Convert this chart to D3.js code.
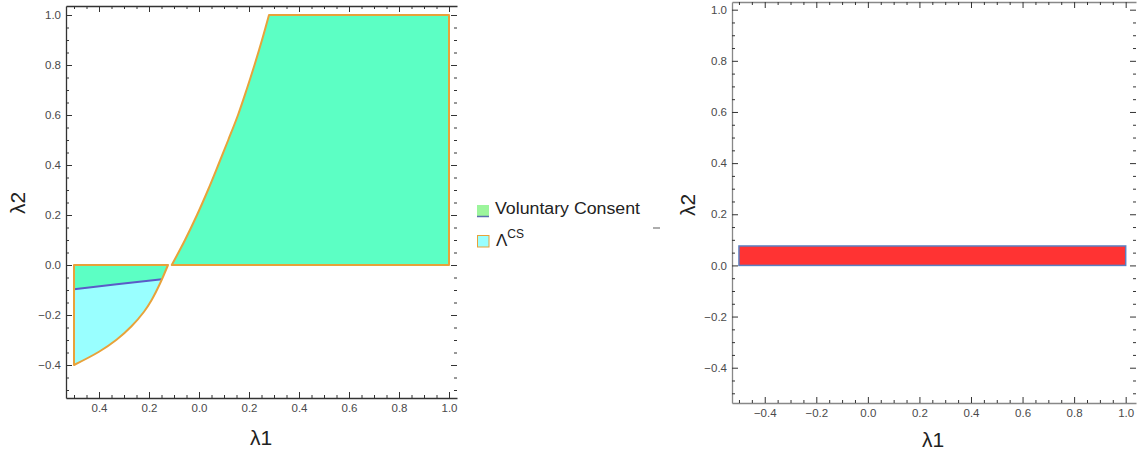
<!DOCTYPE html>
<html>
<head>
<meta charset="utf-8">
<script src="https://cdn.jsdelivr.net/npm/d3@7"></script>
<style>
  body { margin: 0; background: #fff; }
  svg { display: block; font-family: "Liberation Sans", Arial, sans-serif; }
  .tick text { fill: #4a4a4a; font-size: 11.5px; }
</style>
</head>
<body>
<div id="chart"></div>
<script>

// ticks
const majorTicks = [-0.4, -0.2, 0.0, 0.2, 0.4, 0.6, 0.8, 1.0];
const xTickLabelsLeft = ["0.4", "0.2", "0.0", "0.2", "0.4", "0.6", "0.8", "1.0"];
const xTickLabelsRight = ["\u22120.4", "\u22120.2", "0.0", "0.2", "0.4", "0.6", "0.8", "1.0"];
const yTickLabels = ["\u22120.4", "\u22120.2", "0.0", "0.2", "0.4", "0.6", "0.8", "1.0"];

// left panel: boundary of the upper region (lambda1, lambda2)
const upperCurve = [[-0.109, 0], [-0.056, 0.1], [-0.008, 0.2], [0.036, 0.3], [0.077, 0.4], [0.117, 0.5],
                    [0.156, 0.6], [0.19, 0.7], [0.222, 0.8], [0.252, 0.9], [0.28, 1.0]];
const upperCorners = [[1.0, 1.0], [1.0, 0.0]];
// left panel: lower boundary of the small region
const lowerCurve = [[-0.5, -0.4], [-0.4, -0.347], [-0.33, -0.299], [-0.27, -0.245],
                    [-0.22, -0.187], [-0.19, -0.141], [-0.155, -0.072], [-0.124, 0]];
const lowerCorner = [-0.5, 0.0];
// voluntary consent boundary inside the small region
const consentLine = [[-0.5, -0.097], [-0.329, -0.077], [-0.148, -0.057]];

// right panel bar
const barX = [-0.5, 1.0];
const barY = [0.0, 0.076];

const W = 1138, H = 455;
const green = "#5cffc4", cyan = "#99ffff", orange = "#e8a23a", blue = "#5b5bc8";

const svg = d3.select("#chart").append("svg")
    .attr("width", W)
    .attr("height", H);

function minorTicks() {
    return d3.range(-10, 21).map(function (i) { return i * 0.05; })
        .filter(function (v) { return Math.abs(Math.round(v * 5) - v * 5) > 1e-6; });
}

function drawFrame(x, y, xLabels, axisColor) {
    const g = svg.append("g");
    const x0 = x.range()[0], x1 = x.range()[1];
    const y0 = y.range()[0], y1 = y.range()[1];
    const minor = minorTicks().filter(function (v) { return v >= x.domain()[0] && v <= x.domain()[1]; });
    const minorY = minorTicks().filter(function (v) { return v >= y.domain()[0] && v <= y.domain()[1]; });

    // bottom
    g.append("g").attr("transform", "translate(0," + y0 + ")")
        .call(d3.axisBottom(x).tickValues(majorTicks)
            .tickFormat(function (d, i) { return xLabels[i]; })
            .tickSize(-6).tickSizeOuter(0).tickPadding(6));
    g.append("g").attr("class", "minor").attr("transform", "translate(0," + y0 + ")")
        .call(d3.axisBottom(x).tickValues(minor).tickFormat("").tickSize(-3).tickSizeOuter(0));
    // top
    g.append("g").attr("transform", "translate(0," + y1 + ")")
        .call(d3.axisTop(x).tickValues(majorTicks).tickFormat("").tickSize(-6).tickSizeOuter(0));
    g.append("g").attr("class", "minor").attr("transform", "translate(0," + y1 + ")")
        .call(d3.axisTop(x).tickValues(minor).tickFormat("").tickSize(-3).tickSizeOuter(0));
    // left
    g.append("g").attr("transform", "translate(" + x0 + ",0)")
        .call(d3.axisLeft(y).tickValues(majorTicks)
            .tickFormat(function (d, i) { return yTickLabels[i]; })
            .tickSize(-6).tickSizeOuter(0).tickPadding(5));
    g.append("g").attr("class", "minor").attr("transform", "translate(" + x0 + ",0)")
        .call(d3.axisLeft(y).tickValues(minorY).tickFormat("").tickSize(-3).tickSizeOuter(0));
    // right (ticks only)
    g.append("g").attr("class", "minor").attr("transform", "translate(" + x1 + ",0)")
        .call(d3.axisRight(y).tickValues(majorTicks).tickFormat("").tickSize(-6).tickSizeOuter(0));
    g.append("g").attr("class", "minor").attr("transform", "translate(" + x1 + ",0)")
        .call(d3.axisRight(y).tickValues(minorY).tickFormat("").tickSize(-3).tickSizeOuter(0));

    g.selectAll(".minor .domain").remove();
    g.selectAll(".domain").attr("stroke", axisColor).attr("stroke-width", 1.3);
    g.selectAll(".tick line").attr("stroke", "#333").attr("stroke-width", 1);
    return g;
}

// ---------------- left panel ----------------
const xL = d3.scaleLinear().domain([-0.532, 1.032]).range([66, 457]);
const yL = d3.scaleLinear().domain([-0.532, 1.036]).range([398, 6]);

const curveL = d3.line()
    .x(function (d) { return xL(d[0]); })
    .y(function (d) { return yL(d[1]); })
    .curve(d3.curveCatmullRom.alpha(0.5));

// upper region
const upperPath = curveL(upperCurve) +
    upperCorners.map(function (d) { return "L" + xL(d[0]) + "," + yL(d[1]); }).join("") + "Z";
svg.append("path")
    .attr("d", upperPath)
    .attr("fill", green)
    .attr("stroke", orange)
    .attr("stroke-width", 2)
    .attr("stroke-linejoin", "round");

// lower-left region, split by consent line
const lowerPath = curveL(lowerCurve) + "L" + xL(lowerCorner[0]) + "," + yL(lowerCorner[1]) + "Z";
svg.append("clipPath").attr("id", "lowclip").append("path").attr("d", lowerPath);

const low = svg.append("g").attr("clip-path", "url(#lowclip)");
low.append("rect")
    .attr("x", xL(lowerCorner[0]))
    .attr("y", yL(0))
    .attr("width", xL(0) - xL(lowerCorner[0]))
    .attr("height", yL(-0.45) - yL(0))
    .attr("fill", green);
low.append("path")
    .datum(consentLine)
    .attr("d", d3.area()
        .x(function (d) { return xL(d[0]); })
        .y0(yL(-0.45))
        .y1(function (d) { return yL(d[1]); })
        .curve(d3.curveMonotoneX))
    .attr("fill", cyan);
low.append("path")
    .datum(consentLine)
    .attr("d", d3.line()
        .x(function (d) { return xL(d[0]); })
        .y(function (d) { return yL(d[1]); })
        .curve(d3.curveMonotoneX))
    .attr("fill", "none")
    .attr("stroke", blue)
    .attr("stroke-width", 2);

svg.append("path")
    .attr("d", lowerPath)
    .attr("fill", "none")
    .attr("stroke", orange)
    .attr("stroke-width", 2)
    .attr("stroke-linejoin", "round");

drawFrame(xL, yL, xTickLabelsLeft, "#333");

svg.append("text")
    .attr("transform", "translate(25,203) rotate(-90)")
    .attr("text-anchor", "middle")
    .style("font-size", "21px")
    .attr("fill", "#222")
    .text("\u03bb2");
svg.append("text")
    .attr("x", 261).attr("y", 445)
    .attr("text-anchor", "middle")
    .style("font-size", "21px")
    .attr("fill", "#222")
    .text("\u03bb1");

// legend
const legend = svg.append("g");
legend.append("rect")
    .attr("x", 477).attr("y", 205).attr("width", 12).attr("height", 12)
    .attr("fill", "#9cf59c");
legend.append("line")
    .attr("x1", 477).attr("x2", 489).attr("y1", 216.5).attr("y2", 216.5)
    .attr("stroke", "#5b6fae").attr("stroke-width", 1.5);
legend.append("text")
    .attr("x", 495).attr("y", 214)
    .attr("textLength", 145).attr("lengthAdjust", "spacingAndGlyphs")
    .style("font-size", "16px")
    .attr("fill", "#222")
    .text("Voluntary Consent");
legend.append("rect")
    .attr("x", 477.5).attr("y", 235.5).attr("width", 11.5).attr("height", 11.5)
    .attr("fill", cyan).attr("stroke", orange).attr("stroke-width", 1);
const lam = legend.append("text")
    .attr("x", 496).attr("y", 246)
    .style("font-size", "17px")
    .attr("fill", "#222");
lam.append("tspan").text("\u039b");
lam.append("tspan").attr("dy", -8).style("font-size", "12px").text("CS");
legend.append("line")
    .attr("x1", 653).attr("x2", 660).attr("y1", 228).attr("y2", 228)
    .attr("stroke", "#777").attr("stroke-width", 1.2);

// ---------------- right panel ----------------
const xR = d3.scaleLinear().domain([-0.527, 1.04]).range([732, 1136]);
const yR = d3.scaleLinear().domain([-0.538, 1.03]).range([403, 2]);

svg.append("rect")
    .attr("x", xR(barX[0]))
    .attr("y", yR(barY[1]))
    .attr("width", xR(barX[1]) - xR(barX[0]))
    .attr("height", yR(barY[0]) - yR(barY[1]))
    .attr("fill", "#ff3333")
    .attr("stroke", "#5b7fc0")
    .attr("stroke-width", 1.5);

drawFrame(xR, yR, xTickLabelsRight, "#888");

svg.append("text")
    .attr("transform", "translate(695,205) rotate(-90)")
    .attr("text-anchor", "middle")
    .style("font-size", "21px")
    .attr("fill", "#222")
    .text("\u03bb2");
svg.append("text")
    .attr("x", 933).attr("y", 447)
    .attr("text-anchor", "middle")
    .style("font-size", "21px")
    .attr("fill", "#222")
    .text("\u03bb1");

</script>
</body>
</html>
